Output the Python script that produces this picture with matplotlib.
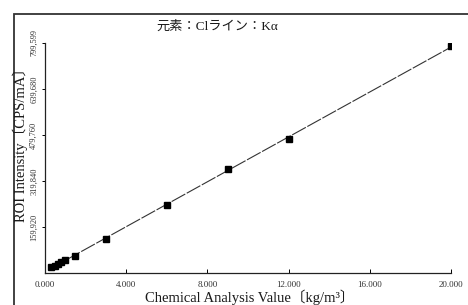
import numpy as np
import matplotlib.pyplot as plt
from matplotlib.patches import Rectangle

# chemical analysis value (kg/m3) and ROI intensity (CPS/mA)
conc = [300, 500, 650, 800, 1000, 1500, 3000, 6000, 9000, 12000, 20000]
intensity = [20000, 26000, 32000, 37500, 45000, 59000, 118000, 237000, 362000, 465000, 789000]

xticks = [0, 4000, 8000, 12000, 16000, 20000]
xticklabels = ['0.000', '4.000', '8.000', '12.000', '16.000', '20.000']
yticks = [159920, 319840, 479760, 639680, 799599]
yticklabels = ['159,920', '319,840', '479,760', '639,680', '799,599']

title = '元素：Clライン：Kα'
xlabel = 'Chemical Analysis Value〔kg/m³〕'
ylabel = 'ROI Intensity〔CPS/mA〕'

fonts = ['Liberation Serif', 'Noto Sans CJK JP']
ink = '#1a1a1a'

fig = plt.figure(figsize=(4.68, 3.05), dpi=100)
ax = fig.add_axes([45/468, 32/305, 406/468, 230/305])

# calibration line (least squares fit)
k, b = np.polyfit(conc, intensity, 1)
xs = np.array([min(conc), max(conc)])
ax.plot(xs, k * xs + b, color='#333333', lw=0.8, ls=(0, (14, 1.5)))
ax.plot(conc, intensity, ls='none', marker='s', ms=4, color='black')

ax.set_xlim(0, 20000)
ax.set_ylim(0, 799599)
ax.spines['top'].set_visible(False)
ax.spines['right'].set_visible(False)
for s in ['left', 'bottom']:
    ax.spines[s].set_linewidth(0.9)
    ax.spines[s].set_color('#222222')

ax.set_xticks(xticks)
ax.set_xticklabels(xticklabels, family=fonts, fontsize=6.5, color='#333333')
ax.set_yticks(yticks)
ax.set_yticklabels(yticklabels, family=fonts, fontsize=6, color='#333333',
                   rotation=90, va='center')
ax.tick_params(axis='x', direction='in', length=3, width=0.7, pad=6)
ax.tick_params(axis='y', direction='out', length=2, width=0.7, pad=3)

fig.text(20/468, 1 - 141/305, ylabel, rotation=90, ha='center', va='center',
         family=fonts, fontsize=10.5, color=ink)
fig.text(250/468, 1 - 297/305, xlabel, ha='center', va='center',
         family=fonts, fontsize=10.5, color=ink)
fig.text(217/468, 1 - 27/305, title, ha='center', va='center',
         family=fonts, fontsize=9.5, color=ink)

# scanned page frame
fig.add_artist(Rectangle((14/468, -0.1), 1.0, 1 - 14/305 + 0.1,
                         transform=fig.transFigure, fill=False,
                         lw=1.3, edgecolor='#333333'))

plt.savefig('out.png', dpi=100)
